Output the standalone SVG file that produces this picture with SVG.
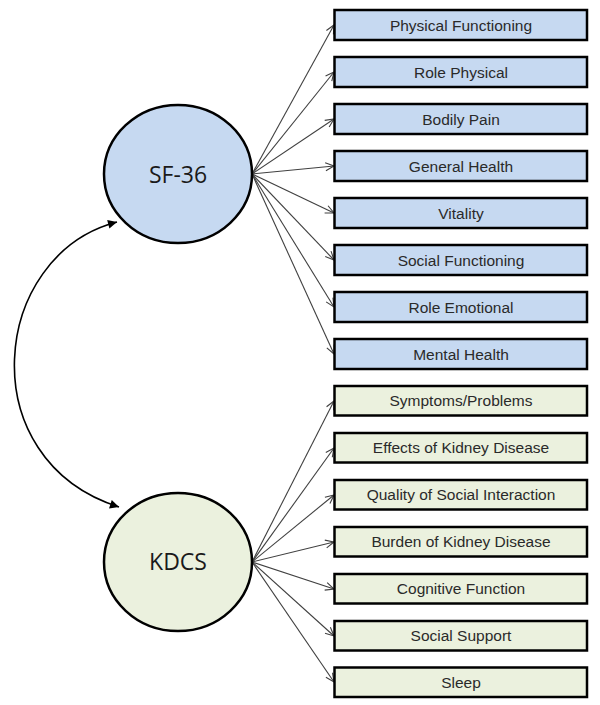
<svg xmlns="http://www.w3.org/2000/svg" width="600" height="705" viewBox="0 0 600 705">
<style>
.sf{fill:#c6d9f1;stroke:#000;stroke-width:2.5}
.kd{fill:#ebf1de;stroke:#000;stroke-width:2.5}
.circ{stroke:#000;stroke-width:2.5}
.lbl{font-family:"Liberation Sans",Arial,sans-serif;font-size:15.5px;fill:#2a2a2a;text-anchor:middle}
.big{font-family:"Open Sans","Noto Sans",sans-serif;font-size:23px;fill:#1a1a1a;text-anchor:middle}
.ln{stroke:#404040;stroke-width:1.1;fill:none;marker-end:url(#open)}
.cv{stroke:#000;stroke-width:1.6;fill:none;marker-start:url(#solid);marker-end:url(#solid)}
</style>
<defs>
<marker id="open" viewBox="0 0 10 10" refX="9.5" refY="5" markerWidth="10" markerHeight="10" markerUnits="userSpaceOnUse" orient="auto">
<path d="M1,1 L9.5,5 L1,9" fill="none" stroke="#404040" stroke-width="1.1"/>
</marker>
<marker id="solid" viewBox="0 0 10 10" refX="10" refY="5" markerWidth="11" markerHeight="9" markerUnits="userSpaceOnUse" orient="auto-start-reverse">
<path d="M0,0 L10,5 L0,10 Z" fill="#000"/>
</marker>
</defs>
<g id="connectors">
<line class="ln" x1="252" y1="174" x2="334" y2="25"/>
<line class="ln" x1="252" y1="174" x2="334" y2="72"/>
<line class="ln" x1="252" y1="174" x2="334" y2="119"/>
<line class="ln" x1="252" y1="174" x2="334" y2="166"/>
<line class="ln" x1="252" y1="174" x2="334" y2="213"/>
<line class="ln" x1="252" y1="174" x2="334" y2="260"/>
<line class="ln" x1="252" y1="174" x2="334" y2="307"/>
<line class="ln" x1="252" y1="174" x2="334" y2="354"/>
<line class="ln" x1="252" y1="562" x2="334" y2="401"/>
<line class="ln" x1="252" y1="562" x2="334" y2="448"/>
<line class="ln" x1="252" y1="562" x2="334" y2="495"/>
<line class="ln" x1="252" y1="562" x2="334" y2="542"/>
<line class="ln" x1="252" y1="562" x2="334" y2="589"/>
<line class="ln" x1="252" y1="562" x2="334" y2="636"/>
<line class="ln" x1="252" y1="562" x2="334" y2="682"/>
<path class="cv" d="M117,222 C-10,255 -30,460 119,507"/>
</g>
<g id="sf36"><ellipse class="circ" cx="178" cy="174" rx="74" ry="69" fill="#c6d9f1"/><text class="big" x="178" y="183">SF-36</text></g>
<g id="kdcs"><ellipse class="circ" cx="178" cy="562" rx="74" ry="69" fill="#ebf1de"/><text class="big" x="178" y="570">KDCS</text></g>
<g id="pf"><rect class="sf" x="334.5" y="10" width="252.5" height="30"/><text class="lbl" x="461" y="30.5">Physical Functioning</text></g>
<g id="rp"><rect class="sf" x="334.5" y="57" width="252.5" height="30"/><text class="lbl" x="461" y="77.5">Role Physical</text></g>
<g id="bp"><rect class="sf" x="334.5" y="104" width="252.5" height="30"/><text class="lbl" x="461" y="124.5">Bodily Pain</text></g>
<g id="gh"><rect class="sf" x="334.5" y="151" width="252.5" height="30"/><text class="lbl" x="461" y="171.5">General Health</text></g>
<g id="vt"><rect class="sf" x="334.5" y="198" width="252.5" height="30"/><text class="lbl" x="461" y="218.5">Vitality</text></g>
<g id="sfn"><rect class="sf" x="334.5" y="245" width="252.5" height="30"/><text class="lbl" x="461" y="265.5">Social Functioning</text></g>
<g id="re"><rect class="sf" x="334.5" y="292" width="252.5" height="30"/><text class="lbl" x="461" y="312.5">Role Emotional</text></g>
<g id="mh"><rect class="sf" x="334.5" y="339" width="252.5" height="30"/><text class="lbl" x="461" y="359.5">Mental Health</text></g>
<g id="sp"><rect class="kd" x="334.5" y="386" width="252.5" height="29.5"/><text class="lbl" x="461" y="406">Symptoms/Problems</text></g>
<g id="ek"><rect class="kd" x="334.5" y="433" width="252.5" height="29.5"/><text class="lbl" x="461" y="453">Effects of Kidney Disease</text></g>
<g id="qs"><rect class="kd" x="334.5" y="480" width="252.5" height="29.5"/><text class="lbl" x="461" y="500">Quality of Social Interaction</text></g>
<g id="bk"><rect class="kd" x="334.5" y="527" width="252.5" height="29.5"/><text class="lbl" x="461" y="547">Burden of Kidney Disease</text></g>
<g id="cf"><rect class="kd" x="334.5" y="574" width="252.5" height="29.5"/><text class="lbl" x="461" y="594">Cognitive Function</text></g>
<g id="ss"><rect class="kd" x="334.5" y="621" width="252.5" height="29.5"/><text class="lbl" x="461" y="641">Social Support</text></g>
<g id="sl"><rect class="kd" x="334.5" y="667.5" width="252.5" height="29.5"/><text class="lbl" x="461" y="687.5">Sleep</text></g>
</svg>
